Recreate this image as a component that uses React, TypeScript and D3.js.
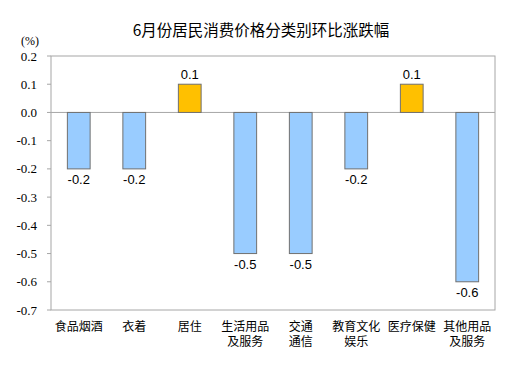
import React from "react";
import * as d3 from "d3";

const categories = ["食品烟酒", "衣着", "居住", "生活用品及服务", "交通通信", "教育文化娱乐", "医疗保健", "其他用品及服务"];
const categoryLines = [["食品烟酒"], ["衣着"], ["居住"], ["生活用品", "及服务"], ["交通", "通信"], ["教育文化", "娱乐"], ["医疗保健"], ["其他用品", "及服务"]];
const values = [-0.2, -0.2, 0.1, -0.5, -0.5, -0.2, 0.1, -0.6];
const yTicks = [0.2, 0.1, 0.0, -0.1, -0.2, -0.3, -0.4, -0.5, -0.6, -0.7];
const title = "6月份居民消费价格分类别环比涨跌幅";
const unit = "(%)";

export default function App() {
  const W = 529, H = 378;
  const left = 51, right = 495, top = 56, bottom = 310;
  const x = d3.scaleBand<string>().domain(categories).range([left, right]).paddingInner(0.59).paddingOuter(0.295);
  const y = d3.scaleLinear().domain([-0.7, 0.2]).range([bottom, top]);
  const cjk = "'Noto Sans CJK SC', sans-serif";
  return (
    <svg width={W} height={H} style={{ position: "absolute", left: 0, top: 0, background: "#fff" }}>
      <text x={261} y={36} textAnchor="middle" fontFamily={cjk} fontSize={15.5} fill="#000">{title}</text>
      <text x={30} y={45} textAnchor="middle" fontFamily="'Liberation Serif', serif" fontSize={12}>{unit}</text>
      <rect x={left} y={top} width={right - left} height={bottom - top} fill="none" stroke="#a6a6a6" strokeWidth={1} />
      {yTicks.map((t) => (
        <g key={t}>
          <line x1={left - 4} x2={left} y1={y(t)} y2={y(t)} stroke="#a6a6a6" />
          <text x={37} y={y(t) + 4.5} textAnchor="end" fontFamily="'Liberation Serif', serif" fontSize={13} fill="#000">{t.toFixed(1)}</text>
        </g>
      ))}
      <line x1={left} x2={right} y1={y(0)} y2={y(0)} stroke="#a6a6a6" />
      {categories.map((c, i) => {
        const v = values[i];
        const bx = x(c)!;
        const bw = x.bandwidth();
        const y0 = y(Math.max(0, v));
        const y1 = y(Math.min(0, v));
        const pos = v > 0;
        const cx = bx + bw / 2;
        return (
          <g key={c}>
            <rect x={bx} y={y0} width={bw} height={y1 - y0} fill={pos ? "#FFC000" : "#99CCFF"} stroke="#707070" strokeWidth={1} />
            <text x={cx} y={pos ? y0 - 5 : y1 + 15} textAnchor="middle" fontFamily="'Liberation Sans', Arial, sans-serif" fontSize={13} fill="#000">{v.toFixed(1)}</text>
            <text x={cx} y={331} textAnchor="middle" fontFamily={cjk} fontSize={12} fill="#000">
              {categoryLines[i].map((ln, j) => (
                <tspan key={j} x={cx} dy={j === 0 ? 0 : 15}>{ln}</tspan>
              ))}
            </text>
          </g>
        );
      })}
    </svg>
  );
}
